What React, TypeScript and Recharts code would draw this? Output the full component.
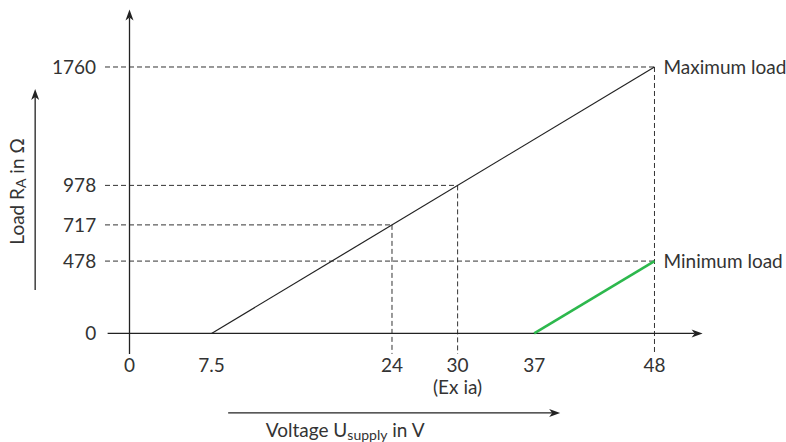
import React from 'react';
import { LineChart, Line, XAxis, YAxis, ReferenceLine, LabelList } from 'recharts';

// ---- data ----
const xTicks = [0, 7.5, 24, 30, 37, 48];
const xTickNotes = [{ u: 30, note: '(Ex ia)' }];
const yTicks = [0, 478, 717, 978, 1760];
const maxLoad = [{ u: 7.5, r: 0 }, { u: 48, r: 1760 }];
const minLoad = [{ u: 37, r: 0 }, { u: 48, r: 478 }];
const guidePoints = [
  { u: 24, r: 717 },
  { u: 30, r: 978 },
  { u: 48, r: 1760 },
  { u: 48, r: 478 },
];
const seriesNames = ['Maximum load', 'Minimum load'];

// ---- layout ----
const X_DOMAIN: [number, number] = [-2.5, 52.4];
const Y_DOMAIN: [number, number] = [-135, 2140];
const GUIDE_X0 = -2.24;
const AXIS_X0 = -2;
const FONT = 'Lato, "Noto Sans", sans-serif';
const TEXT = '#333';
const INK = '#222';
const GREEN = '#2db84d';
const FS = 19;

const Arrow = (props: any) => {
  const { x1, y1, x2, y2 } = props;
  const dx = x2 - x1;
  const dy = y2 - y1;
  const len = Math.hypot(dx, dy) || 1;
  const ux = dx / len;
  const uy = dy / len;
  const L = 11;
  const W = 4;
  const bx = x2 - ux * L;
  const by = y2 - uy * L;
  const px = -uy * W;
  const py = ux * W;
  return (
    <g>
      <line x1={x1} y1={y1} x2={bx + ux * 3} y2={by + uy * 3} stroke={INK} strokeWidth={1.3} />
      <polygon
        points={`${x2},${y2} ${bx + px},${by + py} ${bx + ux * 3},${by + uy * 3} ${bx - px},${by - py}`}
        fill={INK}
      />
    </g>
  );
};

const ArrowLine = ({ x1, y1, x2, y2 }: { x1: number; y1: number; x2: number; y2: number }) => (
  <Arrow x1={x1} y1={y1} x2={x2} y2={y2} />
);

const XTick = (props: any) => {
  const { x, y, payload } = props;
  const note = xTickNotes.find((n) => n.u === payload.value);
  return (
    <g>
      <text x={x} y={y + 18} textAnchor="middle" fill={TEXT} fontSize={FS} fontFamily={FONT}>
        {String(payload.value)}
      </text>
      {note ? (
        <text x={x} y={y + 40} textAnchor="middle" fill={TEXT} fontSize={FS} fontFamily={FONT}>
          {note.note}
        </text>
      ) : null}
    </g>
  );
};

const YTick = (props: any) => {
  const { x, y, payload } = props;
  return (
    <text x={x} y={y} dy="0.35em" textAnchor="end" fill={TEXT} fontSize={FS} fontFamily={FONT}>
      {String(payload.value)}
    </text>
  );
};

const YLabel = (props: any) => {
  const vb = props.viewBox || { x: 0, y: 0 };
  const cx = vb.x - 25;
  const cy = vb.y + 182;
  return (
    <g>
      <text
        x={cx}
        y={cy}
        transform={`rotate(-90 ${cx} ${cy})`}
        textAnchor="middle"
        dy="0.35em"
        fill={TEXT}
        fontSize={FS}
        fontFamily={FONT}
      >
        Load R
        <tspan fontSize={14} dy={2}>A</tspan>
        <tspan dy={-2}> in Ω</tspan>
      </text>
      <ArrowLine x1={vb.x - 7} y1={vb.y + 280.5} x2={vb.x - 7} y2={vb.y + 79.5} />
    </g>
  );
};

const XLabel = (props: any) => {
  const vb = props.viewBox || { x: 0, y: 0 };
  return (
    <g>
      <ArrowLine x1={vb.x + 126} y1={vb.y + 59} x2={vb.x + 458} y2={vb.y + 59} />
      <text x={vb.x + 243} y={vb.y + 83} textAnchor="middle" fill={TEXT} fontSize={FS} fontFamily={FONT}>
        Voltage U
        <tspan fontSize={14} dy={3}>supply</tspan>
        <tspan dy={-3}> in V</tspan>
      </text>
    </g>
  );
};

const endLabel = (name: string, n: number) => (props: any) => {
  const { x, y, index } = props;
  if (index !== n - 1) return null;
  return (
    <text x={x + 9} y={y} dy="0.35em" fill={TEXT} fontSize={FS} fontFamily={FONT}>
      {name}
    </text>
  );
};

const hGuides = yTicks
  .filter((t) => t > 0)
  .map((t) => {
    const p = guidePoints.find((g) => g.r === t);
    return p ? { r: t, u: p.u } : null;
  })
  .filter(Boolean) as { r: number; u: number }[];

const vGuides = Array.from(new Set(guidePoints.map((g) => g.u))).map((u) => ({
  u,
  r: Math.max(...guidePoints.filter((g) => g.u === u).map((g) => g.r)),
}));

export default function App() {
  return (
    <div style={{ position: 'absolute', left: 0, top: 0, width: 786, height: 442, background: '#fff' }}>
      <LineChart width={786} height={442} margin={{ top: 9.46, right: 83.4, left: 42.16, bottom: 58.1 }}>
        <XAxis
          type="number"
          dataKey="u"
          domain={X_DOMAIN}
          allowDataOverflow
          ticks={xTicks}
          interval={0}
          axisLine={false}
          tickLine={false}
          tickSize={0}
          tickMargin={0}
          height={30}
          tick={<XTick />}
          label={{ content: <XLabel /> } as any}
        />
        <YAxis
          type="number"
          dataKey="r"
          domain={Y_DOMAIN}
          allowDataOverflow
          ticks={yTicks}
          interval={0}
          axisLine={false}
          tickLine={false}
          tickSize={0}
          tickMargin={6}
          width={60}
          tick={<YTick />}
          label={{ content: <YLabel /> } as any}
        />
        {hGuides.map((g) => (
          <ReferenceLine
            key={`h${g.r}`}
            segment={[{ x: GUIDE_X0, y: g.r }, { x: g.u, y: g.r }]}
            stroke={TEXT}
            strokeWidth={1}
            strokeDasharray="5 3"
            ifOverflow="visible"
          />
        ))}
        {vGuides.map((g) => (
          <ReferenceLine
            key={`v${g.u}`}
            segment={[{ x: g.u, y: g.r }, { x: g.u, y: Y_DOMAIN[0] }]}
            stroke={TEXT}
            strokeWidth={1}
            strokeDasharray="5 3"
            ifOverflow="visible"
          />
        ))}
        <ReferenceLine
          segment={[{ x: AXIS_X0, y: 0 }, { x: X_DOMAIN[1], y: 0 }]}
          ifOverflow="visible"
          shape={(p: any) => <Arrow {...p} />}
        />
        <ReferenceLine
          segment={[{ x: 0, y: Y_DOMAIN[0] }, { x: 0, y: Y_DOMAIN[1] }]}
          ifOverflow="visible"
          shape={(p: any) => <Arrow {...p} />}
        />
        <Line
          data={maxLoad}
          dataKey="r"
          name={seriesNames[0]}
          stroke={INK}
          strokeWidth={1.2}
          dot={false}
          activeDot={false}
          isAnimationActive={false}
        >
          <LabelList dataKey="r" content={endLabel(seriesNames[0], maxLoad.length)} />
        </Line>
        <Line
          data={minLoad}
          dataKey="r"
          name={seriesNames[1]}
          stroke={GREEN}
          strokeWidth={2.6}
          dot={false}
          activeDot={false}
          isAnimationActive={false}
        >
          <LabelList dataKey="r" content={endLabel(seriesNames[1], minLoad.length)} />
        </Line>
      </LineChart>
    </div>
  );
}
